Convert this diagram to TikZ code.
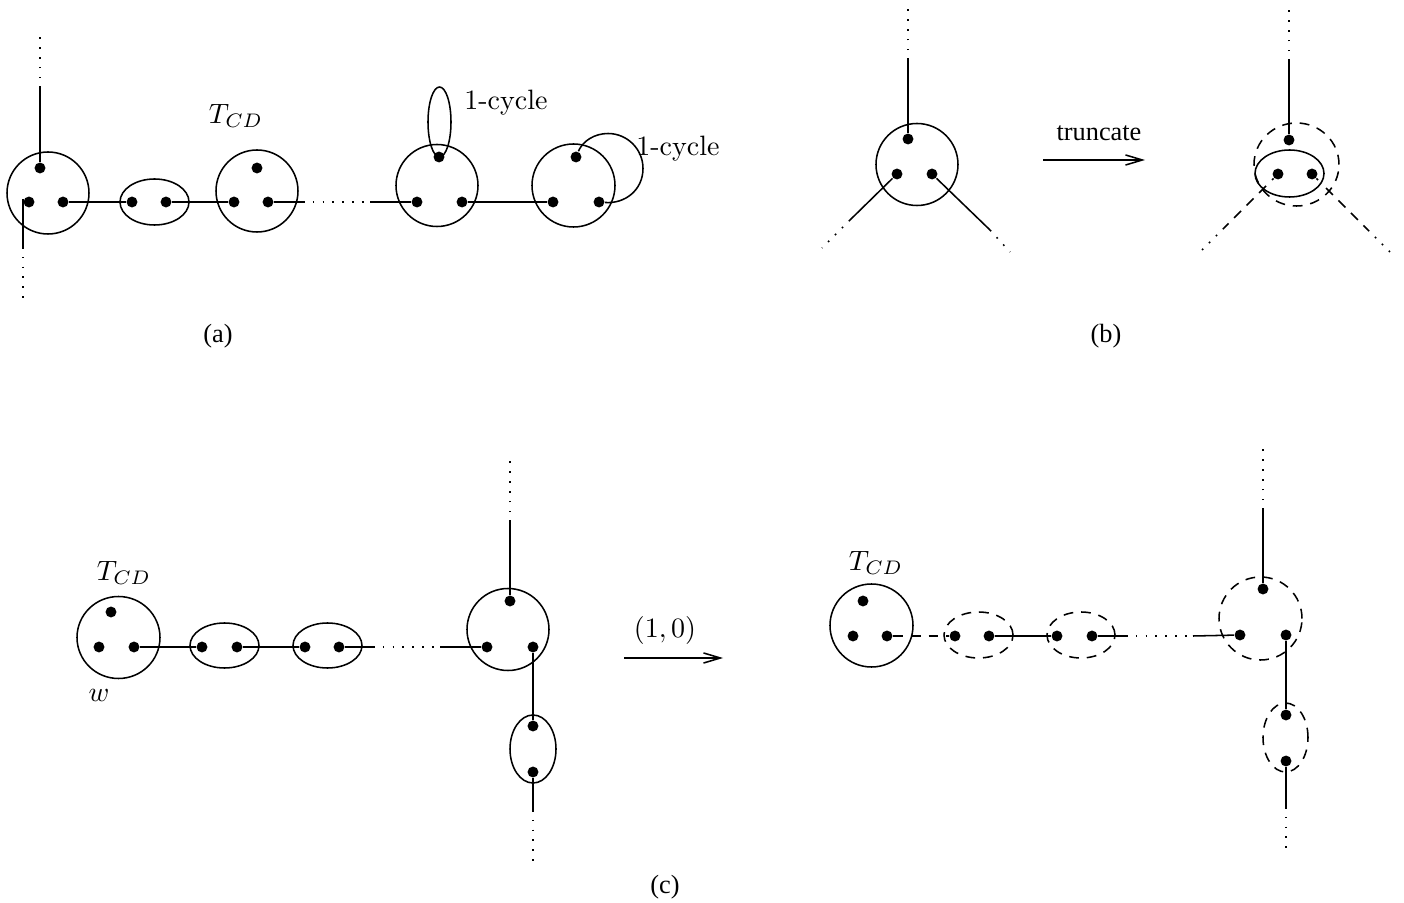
\documentclass[tikz,border=0pt]{standalone}
\usepackage{fontspec}
\newfontfamily\tms{Liberation Serif}
\usetikzlibrary{arrows.meta,shapes.geometric}
\begin{document}
\begin{tikzpicture}[x=0.357pt,y=-0.357pt,line width=0.55pt,
  dot/.style={circle,fill,inner sep=0pt,minimum size=3.9pt},
  grp/.style 2 args={draw,ellipse,inner sep=0pt,minimum width=#1*0.714pt,minimum height=#2*0.714pt},
  dgrp/.style 2 args={grp={#1}{#2},dash pattern=on 3.5pt off 2.8pt},
  dotline/.style={dash pattern=on 0.6pt off 2.9pt},
  dsh/.style={dash pattern=on 3.5pt off 2.8pt},
  arr/.style={-{Straight Barb[length=6pt,width=3.6pt]}},
  tlab/.style={font=\tms\fontsize{9.4}{11}\selectfont},
  lab/.style={font=\fontsize{10}{12}\selectfont}]
\useasboundingbox (0,0) rectangle (1404,903);

% ---------------- panel (a) ----------------
\node[grp={41}{41}] (A1) at (48,193) {};
\node[dot] (A1t) at (40,168) {};
\node[dot] (A1l) at (29,202) {};
\node[dot] (A1r) at (63,202) {};
\coordinate (A1u) at (40,88); \coordinate (A1uu) at (40,33);
\draw (A1t) -- (A1u); \draw[dotline] (A1u) -- (A1uu);
\coordinate (A1s) at (23,199); \coordinate (A1d) at (23,247); \coordinate (A1dd) at (23,305);
\draw (A1s) -- (A1d); \draw[dotline] (A1d) -- (A1dd);

\node[grp={34.5}{23}] (A2) at (154.5,202) {};
\node[dot] (A2l) at (132,202) {};
\node[dot] (A2r) at (166,202) {};
\draw (A1r) -- (A2l);

\node[grp={41}{41}] (A3) at (257,191) {};
\node[dot] (A3t) at (257,168) {};
\node[dot] (A3l) at (234,202) {};
\node[dot] (A3r) at (268,202) {};
\draw (A2r) -- (A3l);
\node[lab] (TCDa) at (236,116) {$T_{CD}$};
\coordinate (A3e) at (303,202); \coordinate (A4e) at (370,202);
\draw (A3r) -- (A3e); \draw[dotline] (A3e) -- (A4e);

\node[grp={41}{41}] (A4) at (437,185.5) {};
\node[dot] (A4t) at (439,157) {};
\node[dot] (A4l) at (417,202) {};
\node[dot] (A4r) at (462,202) {};
\draw (A4e) -- (A4l);
\node[grp={11.5}{35}] (L1) at (439.5,122) {};
\node[lab] (cyc1) at (506,103) {1-cycle};

\node[grp={41.5}{41.5}] (A5) at (573.5,185.5) {};
\node[dot] (A5t) at (576,157) {};
\node[dot] (A5l) at (553,202) {};
\node[dot] (A5r) at (599,202) {};
\draw (A4r) -- (A5l);
\draw (A5t) .. controls (582.8,140.8) and (594.8,133.5) .. (608,133.5)
  .. controls (627.3,133.5) and (643,149.2) .. (643,168.5)
  .. controls (643,190) and (625,204) .. (A5r);
\node[lab] (cyc2) at (678,149) {1-cycle};

\node[tlab] (la) at (218,336) {(a)};

% ---------------- panel (b) ----------------
\node[grp={41}{41}] (B1) at (917,164.5) {};
\node[dot] (B1t) at (908,139) {};
\node[dot] (B1l) at (897,174) {};
\node[dot] (B1r) at (932,174) {};
\coordinate (B1u) at (908,60); \coordinate (B1uu) at (908,5);
\draw (B1t) -- (B1u); \draw[dotline] (B1u) -- (B1uu);
\coordinate (B1a) at (850,220); \coordinate (B1aa) at (822,248);
\draw (B1l) -- (B1a); \draw[dotline] (B1a) -- (B1aa);
\coordinate (B1b) at (990,230); \coordinate (B1bb) at (1010,252);
\draw (B1r) -- (B1b); \draw[dotline] (B1b) -- (B1bb);

\node[tlab] (trunc) at (1099,133) {truncate};
\coordinate (T1) at (1043,160); \coordinate (T2) at (1145,160);
\draw[arr] (T1) -- (T2);

\node[dgrp={42.5}{41.5}] (B2) at (1296.5,164.5) {};
\node[grp={34.5}{23.5}] (B3) at (1289.5,173.5) {};
\node[dot] (B2t) at (1289,140) {};
\node[dot] (B2l) at (1278,174) {};
\node[dot] (B2r) at (1312,174) {};
\coordinate (B2u) at (1289,61); \coordinate (B2uu) at (1289,5);
\draw (B2t) -- (B2u); \draw[dotline] (B2u) -- (B2uu);
\coordinate (B2a0) at (1272,180); \coordinate (B2a1) at (1266,186);
\coordinate (B2a) at (1224,228); \coordinate (B2aa) at (1202,250);
\draw (B2l) -- (B2a0); \draw[dsh] (B2a1) -- (B2a); \draw[dotline] (B2a) -- (B2aa);
\coordinate (B2b0) at (1318,180); \coordinate (B2b1) at (1326,188);
\coordinate (B2b) at (1368,230); \coordinate (B2bb) at (1390,252);
\draw (B2r) -- (B2b0); \draw[dsh] (B2b1) -- (B2b); \draw[dotline] (B2b) -- (B2bb);

\node[tlab] (lb) at (1106,336) {(b)};

% ---------------- panel (c) left ----------------
\node[grp={41.5}{41}] (C1) at (118.5,637.5) {};
\node[dot] (C1t) at (111,612) {};
\node[dot] (C1l) at (99,647) {};
\node[dot] (C1r) at (134,647) {};
\node[lab] (TCDc) at (124,573) {$T_{CD}$};
\node[lab] (w) at (99,695) {$w$};

\node[grp={34.5}{22.5}] (C2) at (224.5,645.5) {};
\node[dot] (C2l) at (202,647) {};
\node[dot] (C2r) at (237,647) {};
\node[grp={34.5}{22.5}] (C3) at (327.5,645.5) {};
\node[dot] (C3l) at (305,647) {};
\node[dot] (C3r) at (339,647) {};
\draw (C1r) -- (C2l);
\draw (C2r) -- (C3l);
\coordinate (C3e) at (373,647); \coordinate (C4e) at (440,647);
\draw (C3r) -- (C3e); \draw[dotline] (C3e) -- (C4e);

\node[grp={41}{41}] (C4) at (508,629.5) {};
\node[dot] (C4t) at (510,601) {};
\node[dot] (C4l) at (487,647) {};
\node[dot] (C4r) at (533,647) {};
\draw (C4e) -- (C4l);
\coordinate (C4u) at (510,522); \coordinate (C4uu) at (510,457);
\draw (C4t) -- (C4u); \draw[dotline] (C4u) -- (C4uu);

\node[grp={23}{34}] (C5) at (533,749) {};
\node[dot] (C5t) at (533,726) {};
\node[dot] (C5b) at (533,772) {};
\draw (C4r) -- (C5t);
\coordinate (C5d) at (533,810); \coordinate (C5dd) at (533,862);
\draw (C5b) -- (C5d); \draw[dotline] (C5d) -- (C5dd);

\coordinate (R1) at (624,658); \coordinate (R2) at (723,658);
\draw[arr] (R1) -- (R2);
\node[lab] (ten) at (665,630) {$(1,0)$};

\node[tlab] (lc) at (665,887) {(c)};

% ---------------- panel (c) right ----------------
\node[grp={41.5}{41.5}] (D1) at (871.5,625.5) {};
\node[dot] (D1t) at (863,601) {};
\node[dot] (D1l) at (853,636) {};
\node[dot] (D1r) at (887,636) {};
\node[lab] (TCDd) at (876,563) {$T_{CD}$};

\node[dgrp={34.5}{23}] (D2) at (978.5,635) {};
\node[dot] (D2l) at (955,636) {};
\node[dot] (D2r) at (989,636) {};
\draw[dsh] (D1r) -- (D2l);

\node[dgrp={34}{23}] (D3) at (1081,635) {};
\node[dot] (D3l) at (1057,636) {};
\node[dot] (D3r) at (1092,636) {};
\draw (D2r) -- (D3l);
\coordinate (D3e) at (1126,636); \coordinate (D4e) at (1193,636);
\draw (D3r) -- (D3e); \draw[dotline] (D3e) -- (D4e);

\node[dgrp={41.5}{41.5}] (D4) at (1260.5,618.5) {};
\node[dot] (D4t) at (1263,589) {};
\node[dot] (D4l) at (1240,635) {};
\node[dot] (D4r) at (1286,635) {};
\draw (D4e) -- (D4l);
\coordinate (D4u) at (1263,510); \coordinate (D4uu) at (1263,445);
\draw (D4t) -- (D4u); \draw[dotline] (D4u) -- (D4uu);

\node[dgrp={22.5}{34.5}] (D5) at (1285.5,737.5) {};
\node[dot] (D5t) at (1286,715) {};
\node[dot] (D5b) at (1286,761) {};
\draw (D4r) -- (D5t);
\coordinate (D5d) at (1286,807); \coordinate (D5dd) at (1286,850);
\draw (D5b) -- (D5d); \draw[dotline] (D5d) -- (D5dd);
\end{tikzpicture}
\end{document}
